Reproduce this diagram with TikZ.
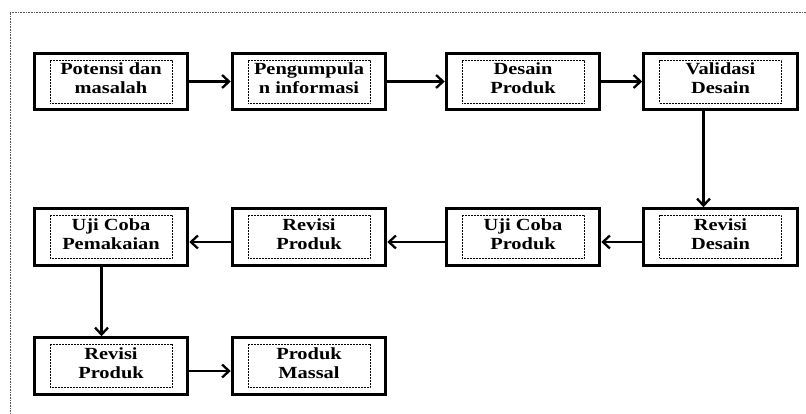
\documentclass[tikz,border=0pt]{standalone}
\usepackage{fontspec}
\setmainfont{Liberation Serif}[FakeStretch=1.2]
\usetikzlibrary{arrows.meta,fit}
\begin{document}
\begin{tikzpicture}[x=1pt,y=-1pt,
        inbox/.style={draw, line width=0.7pt, dash pattern=on 0.8pt off 0.7pt,
            minimum width=122pt, minimum height=43pt, inner sep=0pt, align=center,
            text depth=6pt, font=\fontsize{17}{19}\selectfont\bfseries},
        outbox/.style={draw, line width=2.8pt, inner xsep=15.5pt, inner ysep=6.5pt},
        flow/.style={line width=2.3pt, -{Straight Barb[length=7pt,width=13pt,line width=2.3pt]}}]
    \useasboundingbox (0,0) rectangle (806,414);
    % outer dotted frame (cut off at right and bottom)
    \draw [gray!70!black, line width=0.8pt, dash pattern=on 0.8pt off 0.8pt] (806,12) -- (10,12) -- (10,414);
    % row 1
    \node [inbox] (a) at (111,81.5) {Potensi dan\\masalah};
    \node [outbox, fit=(a)] (A) {};
    \node [inbox] (b) at (309,81.5) {Pengumpula\\n informasi};
    \node [outbox, fit=(b)] (B) {};
    \node [inbox] (c) at (523,81.5) {Desain\\Produk};
    \node [outbox, fit=(c)] (C) {};
    \node [inbox] (d) at (720.5,81.5) {Validasi\\Desain};
    \node [outbox, fit=(d)] (D) {};
    % row 2
    \node [inbox] (e) at (720.5,237) {Revisi\\Desain};
    \node [outbox, fit=(e)] (E) {};
    \node [inbox] (f) at (523,237) {Uji Coba\\Produk};
    \node [outbox, fit=(f)] (F) {};
    \node [inbox] (g) at (309,237) {Revisi\\Produk};
    \node [outbox, fit=(g)] (G) {};
    \node [inbox] (h) at (111,237) {Uji Coba\\Pemakaian};
    \node [outbox, fit=(h)] (H) {};
    % row 3
    \node [inbox] (i) at (111,366) {Revisi\\Produk};
    \node [outbox, fit=(i)] (I) {};
    \node [inbox] (j) at (309,366) {Produk\\Massal};
    \node [outbox, fit=(j)] (J) {};
    % arrows
    \draw [flow] (A.east) -- (B.west);
    \draw [flow] (B.east) -- (C.west);
    \draw [flow] (C.east) -- (D.west);
    \draw [flow] ([xshift=-17pt]D.south) -- ([xshift=-17pt]E.north);
    \draw [flow] ([yshift=-5pt]E.west) -- ([yshift=-5pt]F.east);
    \draw [flow] ([yshift=-5pt]F.west) -- ([yshift=-5pt]G.east);
    \draw [flow] ([yshift=-5pt]G.west) -- ([yshift=-5pt]H.east);
    \draw [flow] ([xshift=-9.5pt]H.south) -- ([xshift=-9.5pt]I.north);
    \draw [flow] ([yshift=-5pt]I.east) -- ([yshift=-5pt]J.west);
\end{tikzpicture}
\end{document}
